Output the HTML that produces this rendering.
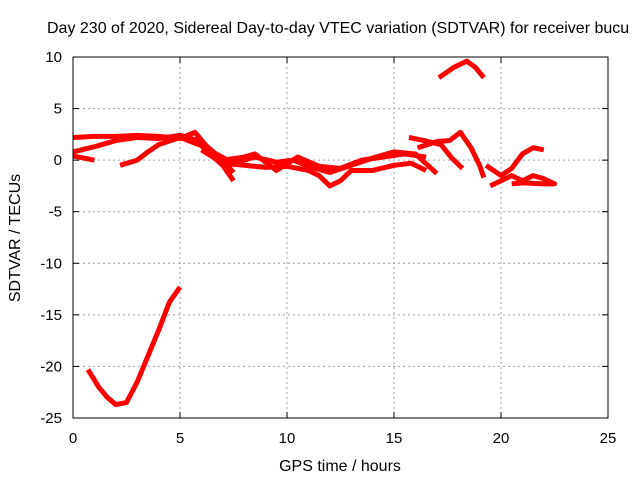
<!DOCTYPE html>
<html><head><meta charset="utf-8"><style>
body{margin:0;background:#fff;overflow:hidden}
svg{display:block;font-family:"Liberation Sans",sans-serif;font-size:15px}
</style></head><body>
<svg id="chart" width="640" height="480">
<text x="47" y="33" font-size="16">Day 230 of 2020, Sidereal Day-to-day VTEC variation (SDTVAR) for receiver bucu</text>
<text transform="translate(20,238) rotate(-90)" text-anchor="middle" font-size="16">SDTVAR / TECUs</text>
<text x="340" y="471" text-anchor="middle" font-size="16">GPS time / hours</text>
<g id="grid"></g><g id="ticks"></g><g id="marks"></g>
<rect x="73" y="57" width="535" height="361" fill="none" stroke="#000" stroke-width="1"/>
</svg>
<script>
const xTicks=[0,5,10,15,20,25];
const yTicks=[10,5,0,-5,-10,-15,-20,-25];
const seriesNames=["a","b","c","d","e","f","g","h","i","j","k","low-curve"];
const s_a=[[0,2.2],[1,2.3],[2,2.3],[3,2.4],[4,2.3],[5,2.1],[5.7,2.7],[6.3,1.2],[7,0],[7.5,-1.2]];
const s_b=[[0,0.8],[1,1.3],[2,1.9],[3,2.2],[4,2.1],[5,2.4],[6,1.8],[7,0],[8,0.3],[8.5,0.6],[9.5,-1],[10.5,0.3],[11.5,-0.6],[12.5,-0.8],[13.5,0],[14.5,0.3],[15.5,0.6],[16.5,0.3]];
const s_c=[[2.2,-0.5],[3,0],[3.5,0.8],[4,1.5],[5,2.2],[6,1.4],[6.5,0.4],[7,-0.5],[7.5,-2]];
const s_d=[[0,0.4],[0.5,0.2],[1,0]];
const s_e=[[6,1],[7,-0.3],[8,-0.5],[9,-0.7],[10,-0.6],[11,-1],[11.5,-1.5],[12,-2.5],[12.5,-2],[13,-1],[14,-1],[15,-0.5],[15.8,-0.3],[16.5,-1]];
const s_f=[[6.5,0.8],[7.5,-0.3],[8.5,0.3],[9.5,-0.2],[10.3,0],[11,-0.6],[12,-1.2],[13,-0.5],[14,0.2],[15,0.8],[16,0.6],[17,-1.3]];
const s_g=[[15.7,2.2],[16.4,1.9],[17.2,1.5],[17.7,0.2],[18.2,-0.8]];
const s_h=[[16.1,1.2],[17,1.8],[17.6,1.9],[18.1,2.7],[18.6,1.2],[19,-0.5],[19.2,-1.7]];
const s_i=[[17.1,8],[17.8,9],[18.4,9.6],[18.8,9],[19.2,8]];
const s_j=[[19.3,-0.5],[20,-1.5],[20.5,-0.8],[21,0.6],[21.5,1.2],[22,1]];
const s_k=[[19.5,-2.5],[20,-2],[20.5,-1.5],[21,-2],[21.5,-1.5],[22,-1.8],[22.5,-2.3],[22,-2.3],[21,-2.2],[20.5,-2.3]];
const s_l=[[0.7,-20.3],[1.2,-22],[1.6,-23],[2,-23.7],[2.5,-23.5],[3,-21.5],[3.5,-19],[4,-16.5],[4.5,-13.8],[5,-12.3]];
const allSeries=[s_a,s_b,s_c,s_d,s_e,s_f,s_g,s_h,s_i,s_j,s_k,s_l];
const NS="http://www.w3.org/2000/svg";
function X(h){return 73+h*(535/25);}
function Y(v){return 57+(10-v)*(361/35);}
const grid=document.getElementById('grid'),ticks=document.getElementById('ticks'),marks=document.getElementById('marks');
function mk(tag,attrs,parent){const e=document.createElementNS(NS,tag);for(const k in attrs)e.setAttribute(k,attrs[k]);parent.appendChild(e);return e;}
xTicks.forEach(t=>{
 if(t>0&&t<25){const g=mk('line',{x1:X(t),x2:X(t),y1:57,y2:418,stroke:'#a0a0a0','stroke-dasharray':'2,3'},grid);
 
 }
 mk('line',{x1:X(t),x2:X(t),y1:418,y2:412,stroke:'#000'},ticks);
 mk('line',{x1:X(t),x2:X(t),y1:57,y2:63,stroke:'#000'},ticks);
 const l=mk('text',{x:X(t),y:443,'text-anchor':'middle'},ticks);l.textContent=t;
 
 
});
yTicks.forEach(t=>{
 if(t<10&&t>-25){const g=mk('line',{x1:73,x2:608,y1:Y(t),y2:Y(t),stroke:'#a0a0a0','stroke-dasharray':'2,3'},grid);
 
 }
 mk('line',{x1:73,x2:79,y1:Y(t),y2:Y(t),stroke:'#000'},ticks);
 mk('line',{x1:608,x2:602,y1:Y(t),y2:Y(t),stroke:'#000'},ticks);
 const l=mk('text',{x:62,y:Y(t)+5,'text-anchor':'end'},ticks);l.textContent=t;
 
 
});
allSeries.forEach((s,i)=>{
 const p=mk('polyline',{points:s.map(d=>X(d[0])+','+Y(d[1])).join(' '),fill:'none',stroke:'#ff0000','stroke-width':5,'stroke-linejoin':'round','stroke-linecap':'butt'},marks);
 
 
});
</script>
</body></html>
